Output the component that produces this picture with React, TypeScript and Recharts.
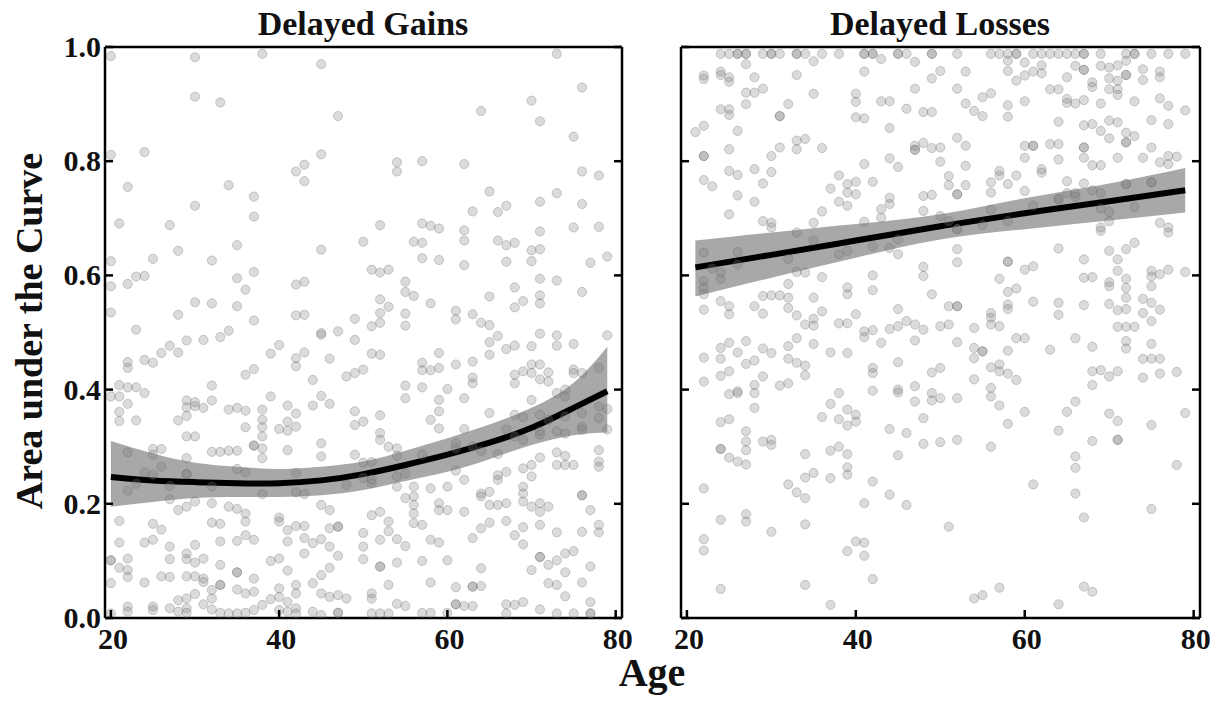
import React from "react";
import { ComposedChart, Scatter, Line, Area, XAxis, YAxis } from "recharts";

const FONT = "'Liberation Serif', 'Times New Roman', serif";

const AGE_TICKS = [20, 40, 60, 80];
const AUC_TICKS = [0, 0.2, 0.4, 0.6, 0.8, 1.0];
const AGE_DOMAIN: [number, number] = [19.3, 80.75];
const AUC_DOMAIN: [number, number] = [0, 1];

// [age, area under the curve]
const gainsPoints: [number, number][] = [
  [20,.984],[30,.982],[38,.988],[45,.970],[30,.913],[33,.903],[47,.879],[20,.811],[24,.816],[45,.812],[43,.794],[42,.782],[43,.765],[22,.755],[34,.758],[37,.738],[30,.722],[37,.703],[21,.691],[27,.688],[35,.653],[50,.659],[45,.645],[28,.643],[20,.625],[25,.629],[32,.626],[51,.61],[23,.598],[24,.599],[22,.585],[20,.581],[35,.595],[37,.606],[36,.575],[42,.584],[43,.589],[30,.553],[32,.551],[35,.546],[20,.535],[28,.531],[37,.521],[42,.530],[43,.531],[49,.524],[23,.505],[34,.503],[45,.499],[47,.502],[51,.511],
  [73,.988],[76,.929],[70,.906],[64,.888],[71,.870],[75,.843],[54,.798],[54,.782],[57,.80],[62,.795],[76,.782],[78,.775],[65,.747],[73,.744],[71,.729],[76,.725],[63,.712],[66,.711],[67,.722],[52,.688],[57,.691],[58,.687],[59,.682],[62,.679],[62,.661],[56,.659],[57,.657],[66,.661],[67,.653],[68,.657],[70,.644],[71,.646],[71,.677],[75,.684],[78,.685],[57,.63],[59,.627],[62,.618],[67,.624],[70,.625],[77,.622],[79,.633],[52,.605],[53,.61],[55,.589],[55,.571],[56,.564],[52,.558],[53,.545],[52,.534],[52,.517],[55,.533],[55,.512],[58,.551],[61,.538],[61,.523],[63,.532],[64,.517],[65,.513],[65,.563],[68,.579],[69,.555],[68,.544],[71,.594],[71,.565],[71,.551],[73,.591],[76,.571],
  [33,.492],[29,.486],[31,.487],[27,.477],[26,.464],[28,.465],[24,.452],[25,.447],[22,.448],[22,.438],[40,.478],[39,.463],[42,.455],[42,.441],[43,.465],[45,.496],[49,.487],[46,.454],[37,.436],[36,.426],[44,.417],[48,.423],[49,.429],[50,.435],[21,.408],[22,.404],[23,.404],[24,.394],[20,.388],[21,.388],[32,.407],[32,.381],[29,.381],[29,.369],[30,.378],[30,.371],[31,.368],[22,.375],[21,.361],[21,.345],[23,.346],[28,.346],[29,.354],[34,.365],[35,.368],[36,.363],[38,.365],[38,.347],[38,.334],[38,.318],[39,.388],[41,.372],[42,.358],[41,.344],[40,.331],[41,.328],[42,.335],[36,.334],[44,.372],[45,.389],[46,.375],[49,.362],[49,.338],[50,.344],[29,.318],[30,.318],[25,.296],[26,.296],[25,.286],[22,.29],[32,.291],[33,.291],[34,.293],[35,.293],[37,.302],[37,.302],[38,.297],[38,.28],[41,.294],[45,.306],[45,.283],[49,.286],[29,.28],[26,.265],[24,.255],[25,.251],[29,.252],[29,.252],[35,.261],[36,.255],[42,.254],[50,.272],[23,.235],[22,.223],[27,.231],[32,.23],[38,.217],[42,.22],[43,.217],[48,.233],[27,.208],[29,.195],[28,.189],[30,.204],[32,.201],[34,.195],[35,.191],[36,.183],[36,.169],[45,.198],[46,.189],[21,.17],[25,.165],[26,.155],[32,.167],[33,.165],[40,.176],[40,.169],[41,.154],[42,.161],[43,.161],[46,.157],[47,.16],[47,.16],[50,.149],[21,.132],[24,.132],[25,.137],[27,.125],[30,.128],[33,.134],[35,.135],[36,.145],[37,.137],[41,.134],[43,.14],[44,.131],[45,.138],[46,.125],[47,.109],[50,.125],[20,.101],[20,.101],[22,.104],[27,.103],[29,.113],[29,.103],[30,.097],[31,.104],[39,.1],[40,.104],[43,.113],[21,.088],[22,.084],[22,.072],[33,.093],[41,.083],[45,.075],[46,.088],[50,.103],[20,.061],[24,.062],[26,.073],[27,.072],[29,.073],[30,.073],[31,.069],[31,.063],[35,.08],[35,.08],[37,.069],[33,.058],[33,.058],[32,.049],[30,.042],[35,.05],[36,.043],[37,.046],[40,.052],[40,.037],[42,.058],[42,.043],[44,.061],[45,.043],[46,.037],[47,.04],[48,.034],[28,.031],[29,.034],[32,.034],[31,.024],[39,.033],[41,.028],[22,.02],[22,.011],[25,.02],[25,.014],[27,.017],[28,.011],[29,.017],[29,.009],[32,.015],[33,.009],[34,.008],[35,.008],[36,.009],[37,.014],[38,.023],[40,.014],[41,.011],[42,.017],[42,.008],[44,.011],[45,.005],[47,.009],[47,.009],[20,.008],
  [51,.463],[52,.461],[59,.464],[57,.447],[57,.434],[58,.434],[59,.438],[61,.444],[63,.449],[65,.483],[66,.494],[65,.461],[67,.471],[68,.477],[70,.476],[71,.498],[73,.495],[73,.477],[75,.48],[79,.495],[70,.444],[71,.444],[70,.429],[71,.418],[72,.43],[72,.414],[69,.432],[68,.426],[68,.411],[75,.435],[75,.429],[76,.429],[78,.438],[63,.421],[63,.411],[55,.407],[55,.385],[57,.404],[60,.401],[62,.385],[59,.382],[59,.362],[58,.347],[59,.332],[52,.355],[65,.359],[70,.382],[73,.394],[74,.4],[74,.388],[78,.37],[79,.366],[68,.356],[69,.352],[71,.356],[72,.347],[74,.353],[76,.359],[76,.335],[76,.33],[78,.35],[79,.33],[73,.327],[74,.323],[71,.327],[71,.321],[67,.33],[68,.318],[69,.312],[62,.331],[52,.324],[52,.312],[61,.306],[61,.297],[63,.3],[64,.292],[66,.287],[53,.3],[54,.297],[54,.284],[57,.286],[51,.273],[71,.281],[73,.29],[74,.284],[73,.268],[74,.268],[75,.268],[78,.294],[78,.274],[78,.265],[69,.262],[70,.268],[70,.248],[67,.256],[66,.25],[66,.242],[61,.258],[62,.242],[51,.236],[54,.248],[54,.23],[55,.253],[56,.23],[56,.213],[56,.198],[56,.183],[56,.166],[57,.163],[58,.227],[60,.23],[55,.21],[50,.245],[51,.243],[64,.218],[64,.213],[65,.221],[69,.23],[69,.218],[69,.204],[70,.195],[71,.201],[71,.186],[72,.195],[76,.215],[76,.215],[77,.189],[59,.201],[59,.189],[60,.189],[62,.186],[65,.198],[66,.198],[67,.201],[52,.186],[51,.18],[53,.169],[53,.152],[52,.137],[54,.138],[55,.126],[58,.137],[59,.132],[63,.14],[64,.157],[65,.167],[67,.17],[68,.145],[69,.159],[69,.129],[71,.163],[73,.15],[76,.151],[78,.163],[78,.15],[52,.09],[52,.09],[54,.097],[57,.1],[60,.101],[64,.087],[70,.084],[71,.107],[71,.107],[72,.093],[73,.101],[74,.113],[75,.117],[74,.08],[77,.09],[53,.058],[58,.062],[61,.054],[63,.055],[63,.055],[64,.056],[72,.061],[73,.058],[76,.062],[51,.043],[51,.034],[74,.038],[54,.025],[55,.021],[61,.024],[61,.024],[62,.021],[63,.021],[67,.024],[68,.023],[69,.028],[71,.015],[77,.028],[51,.008],[52,.008],[53,.008],[57,.009],[58,.009],[60,.009],[67,.008],[73,.008],[75,.008],[77,.008],[77,.008],
];

const lossesPoints: [number, number][] = [
  [24,.988],[25,.988],[26,.988],[26,.988],[27,.988],[27,.988],[29,.988],[30,.988],[30,.988],[31,.988],[33,.988],[33,.988],[34,.988],[36,.988],[38,.988],[41,.988],[41,.988],[42,.988],[42,.988],[45,.988],[45,.988],[46,.988],[49,.988],[49,.988],
  [27,.97],[35,.975],[43,.979],[47,.974],[22,.95],[22,.944],[24,.957],[24,.951],[25,.947],[25,.939],[28,.947],[33,.951],[41,.957],[49,.945],[50,.958],[27,.92],[28,.92],[29,.927],[35,.918],[40,.918],[40,.904],[27,.9],[47,.927],[43,.905],[44,.905],[46,.892],[48,.886],[49,.886],[24,.891],[25,.891],[25,.881],[32,.9],[31,.879],[31,.879],[40,.877],[41,.875],[21,.851],[22,.862],[26,.853],[44,.858],[22,.809],[22,.809],[25,.821],[30,.809],[31,.824],[33,.836],[33,.821],[34,.839],[36,.823],[47,.827],[47,.82],[47,.82],[48,.832],[49,.823],[50,.824],[50,.799],[25,.783],[26,.776],[28,.786],[30,.781],[29,.761],[22,.767],[23,.756],[41,.795],[44,.805],[45,.79],[38,.775],[37,.752],[39,.76],[39,.745],[40,.764],[40,.742],[42,.764],[38,.729],[39,.722],[26,.74],[28,.729],[44,.736],[44,.725],[43,.716],[48,.739],[49,.741],[48,.713],[25,.707],[36,.712],[29,.695],[30,.692],[30,.684],[35,.692],[41,.694],[43,.701],[50,.704],[33,.675],[35,.661],[45,.663],[22,.64],[26,.641],[32,.629],[38,.637],[39,.643],[42,.651],[44,.648],[45,.637],[23,.612],[24,.605],[24,.594],[26,.619],[22,.59],[22,.578],[22,.567],[33,.606],[34,.605],[36,.597],[42,.6],[48,.615],[48,.599],[32,.585],[39,.579],[39,.567],[42,.574],[29,.564],[30,.565],[31,.565],[32,.561],[35,.561],[49,.567],[24,.555],[25,.546],[25,.532],[22,.54],[28,.546],[29,.533],[32,.543],[33,.53],[35,.524],[35,.512],[34,.514],[36,.537],[40,.532],[38,.516],[39,.516],[45,.541],[46,.52],[45,.511],[47,.514],[48,.505],[50,.511],[44,.506],[42,.504],[41,.502],
  [52,.988],[56,.988],[57,.988],[58,.988],[59,.988],[59,.988],[61,.988],[62,.988],[63,.988],[64,.988],[65,.988],[66,.988],[67,.988],[67,.988],[69,.988],[72,.988],[73,.988],[73,.988],[75,.988],[77,.988],[79,.988],
  [58,.976],[60,.973],[62,.968],[53,.957],[58,.958],[61,.957],[62,.954],[66,.967],[67,.96],[67,.96],[69,.967],[70,.964],[71,.968],[72,.976],[72,.951],[72,.951],[70,.945],[71,.941],[70,.926],[71,.926],[71,.916],[74,.961],[74,.942],[76,.957],[76,.947],[59,.941],[60,.95],[65,.947],[68,.938],[68,.93],[63,.926],[64,.926],[52,.927],[55,.912],[56,.919],[53,.901],[54,.888],[55,.879],[58,.898],[58,.878],[60,.905],[65,.909],[65,.902],[66,.901],[67,.907],[69,.901],[73,.905],[76,.91],[77,.897],[79,.889],[64,.869],[67,.863],[68,.865],[69,.853],[70,.871],[71,.868],[70,.84],[72,.85],[72,.833],[72,.833],[73,.844],[75,.872],[77,.865],[52,.841],[53,.827],[60,.827],[61,.827],[61,.827],[63,.83],[64,.83],[67,.824],[67,.824],[75,.824],[53,.792],[60,.806],[64,.803],[67,.806],[68,.793],[69,.793],[71,.806],[74,.806],[76,.798],[77,.809],[77,.795],[78,.808],[51,.774],[51,.758],[53,.758],[56,.763],[57,.783],[57,.775],[58,.76],[59,.775],[62,.786],[62,.78],[65,.765],[67,.761],[52,.742],[52,.742],[56,.745],[60,.748],[64,.734],[65,.744],[66,.744],[66,.738],[68,.749],[69,.744],[72,.76],[72,.76],[75,.763],[75,.763],[51,.695],[52,.681],[52,.681],[55,.688],[56,.715],[58,.695],[61,.722],[64,.733],[69,.717],[70,.711],[70,.695],[69,.684],[69,.678],[73,.72],[76,.692],[77,.684],[77,.675],[52,.646],[52,.623],[58,.624],[58,.624],[60,.61],[61,.616],[64,.647],[67,.628],[67,.596],[68,.597],[70,.643],[71,.628],[72,.646],[73,.657],[71,.608],[72,.594],[70,.588],[70,.581],[75,.608],[75,.598],[75,.581],[76,.602],[77,.61],[79,.606],[57,.594],[58,.571],[59,.577],[72,.578],[72,.561],[51,.546],[52,.546],[52,.546],[58,.549],[58,.541],[56,.534],[56,.526],[61,.554],[64,.552],[64,.531],[67,.548],[70,.55],[71,.539],[72,.541],[74,.559],[74,.534],[75,.552],[76,.54],[75,.52],[51,.514],[54,.508],[56,.514],[57,.511],[71,.51],[72,.51],[73,.51],
  [41,.492],[43,.482],[47,.486],[22,.456],[24,.473],[24,.454],[25,.482],[26,.465],[27,.485],[27,.445],[28,.451],[29,.472],[30,.464],[32,.476],[32,.454],[33,.49],[33,.447],[34,.442],[34,.425],[35,.48],[37,.465],[39,.464],[22,.414],[24,.424],[25,.432],[28,.408],[28,.394],[29,.423],[25,.392],[26,.394],[26,.397],[31,.407],[32,.411],[28,.368],[38,.394],[37,.375],[39,.365],[40,.356],[40,.344],[39,.337],[38,.348],[36,.352],[42,.438],[42,.429],[42,.398],[45,.448],[45,.4],[45,.395],[47,.406],[47,.379],[49,.394],[49,.381],[50,.438],[49,.43],[48,.35],[24,.343],[25,.348],[27,.327],[27,.309],[27,.294],[24,.296],[24,.296],[25,.281],[26,.274],[27,.269],[29,.309],[30,.312],[30,.303],[34,.287],[37,.293],[38,.3],[39,.287],[39,.264],[39,.251],[35,.254],[34,.246],[37,.245],[44,.331],[46,.324],[48,.305],[50,.308],[45,.285],[22,.227],[32,.234],[33,.22],[34,.21],[42,.239],[41,.201],[44,.216],[46,.198],[24,.172],[27,.182],[27,.169],[30,.151],[34,.164],[22,.138],[22,.118],[39,.117],[40,.134],[41,.132],[41,.109],[42,.068],[24,.051],[34,.058],[37,.023],
  [52,.483],[54,.473],[54,.455],[55,.467],[55,.467],[58,.468],[59,.49],[60,.49],[63,.47],[66,.49],[68,.475],[72,.485],[72,.472],[75,.48],[74,.454],[75,.454],[76,.454],[54,.418],[56,.439],[57,.444],[57,.432],[58,.428],[59,.417],[56,.403],[56,.388],[57,.372],[68,.432],[69,.434],[70,.423],[71,.432],[68,.408],[74,.421],[76,.428],[78,.431],[52,.385],[50,.385],[60,.361],[58,.34],[65,.361],[66,.379],[64,.328],[70,.358],[71,.345],[75,.338],[79,.359],[52,.312],[56,.3],[68,.31],[71,.312],[71,.312],[66,.283],[66,.263],[78,.268],[61,.234],[66,.218],[67,.176],[75,.191],[51,.16],[54,.034],[55,.04],[57,.053],[64,.024],[67,.055],[68,.046],
];

// fitted curve and its confidence band
const gainsFitAge = [20, 25, 30, 35, 40, 45, 50, 55, 60, 65, 70, 75, 79];
const gainsFitMid = [0.247, 0.241, 0.238, 0.236, 0.236, 0.241, 0.252, 0.268, 0.286, 0.307, 0.333, 0.368, 0.397];
const gainsFitLo = [0.195, 0.203, 0.21, 0.212, 0.212, 0.215, 0.224, 0.24, 0.256, 0.278, 0.303, 0.32, 0.325];
const gainsFitHi = [0.31, 0.288, 0.272, 0.265, 0.261, 0.265, 0.274, 0.293, 0.315, 0.339, 0.368, 0.412, 0.475];

const lossesFitAge = [21, 30, 40, 50, 60, 70, 79];
const lossesFitMid = [0.614, 0.636, 0.661, 0.686, 0.709, 0.73, 0.749];
const lossesFitLo = [0.563, 0.596, 0.631, 0.663, 0.681, 0.696, 0.71];
const lossesFitHi = [0.661, 0.675, 0.69, 0.707, 0.735, 0.761, 0.788];

const toPoints = (pts: [number, number][]) => pts.map(([age, auc]) => ({ age, auc }));
const toFit = (age: number[], mid: number[], lo: number[], hi: number[]) =>
  age.map((a, i) => ({ age: a, fit: mid[i], band: [lo[i], hi[i]] }));

const TICK_LEN = 8;
const STROKE = 2.5;
const TICK_FONT = 30;
const axisLine = { stroke: "#000", strokeWidth: STROKE };

const BottomTick = (props: any) => {
  const { x, y, payload } = props;
  return (
    <g>
      <line x1={x} x2={x} y1={y} y2={y - TICK_LEN} stroke="#000" strokeWidth={STROKE} />
      <text x={x + 2} y={y + 31} textAnchor="middle" fontFamily={FONT} fontWeight="bold" fontSize={TICK_FONT} fill="#111">
        {payload.value}
      </text>
    </g>
  );
};

const TopTick = (props: any) => {
  const { x, y } = props;
  return <line x1={x} x2={x} y1={y} y2={y + TICK_LEN} stroke="#000" strokeWidth={STROKE} />;
};

const makeLeftTick = (labels: boolean) => (props: any) => {
  const { x, y, payload } = props;
  return (
    <g>
      <line x1={x} x2={x + TICK_LEN} y1={y} y2={y} stroke="#000" strokeWidth={STROKE} />
      {labels && (
        <text x={x - 4} y={y + 10} textAnchor="end" fontFamily={FONT} fontWeight="bold" fontSize={TICK_FONT} fill="#111">
          {Number(payload.value).toFixed(1)}
        </text>
      )}
    </g>
  );
};

const RightTick = (props: any) => {
  const { x, y } = props;
  return <line x1={x} x2={x - TICK_LEN} y1={y} y2={y} stroke="#000" strokeWidth={STROKE} />;
};

const Dot = (p: any) => (
  <circle cx={p.cx} cy={p.cy} r={4.6} fill="#7a7a7a" fillOpacity={0.27} stroke="#666" strokeOpacity={0.3} strokeWidth={1} />
);

interface PanelProps {
  points: { age: number; auc: number }[];
  fit: { age: number; fit: number; band: number[] }[];
  width: number;
  margin: { top: number; right: number; bottom: number; left: number };
  yLabels: boolean;
}

// axes are 1px thick so recharts still draws them; margins take that pixel back
function Panel({ points, fit, width, margin, yLabels }: PanelProps) {
  return (
    <ComposedChart width={width} height={704} margin={margin}>
      <XAxis
        type="number"
        dataKey="age"
        domain={AGE_DOMAIN}
        ticks={AGE_TICKS}
        interval={0}
        allowDataOverflow
        height={1}
        tickSize={0}
        tickMargin={0}
        tickLine={false}
        axisLine={axisLine}
        tick={<BottomTick />}
      />
      <XAxis
        xAxisId="top"
        orientation="top"
        type="number"
        domain={AGE_DOMAIN}
        ticks={AGE_TICKS}
        interval={0}
        allowDataOverflow
        height={1}
        tickSize={0}
        tickMargin={0}
        tickLine={false}
        axisLine={axisLine}
        tick={<TopTick />}
      />
      <YAxis
        type="number"
        domain={AUC_DOMAIN}
        ticks={AUC_TICKS}
        interval={0}
        allowDataOverflow
        width={1}
        tickSize={0}
        tickMargin={0}
        tickLine={false}
        axisLine={axisLine}
        tick={makeLeftTick(yLabels)}
      />
      <YAxis
        yAxisId="right"
        orientation="right"
        type="number"
        domain={AUC_DOMAIN}
        ticks={AUC_TICKS}
        interval={0}
        allowDataOverflow
        width={1}
        tickSize={0}
        tickMargin={0}
        tickLine={false}
        axisLine={axisLine}
        tick={<RightTick />}
      />
      <Area
        data={fit}
        dataKey="band"
        type="natural"
        fill="#a8a8a8"
        fillOpacity={1}
        stroke="none"
        isAnimationActive={false}
      />
      <Scatter data={points} dataKey="auc" shape={<Dot />} isAnimationActive={false} />
      <Line
        data={fit}
        dataKey="fit"
        type="natural"
        stroke="#000"
        strokeWidth={6}
        dot={false}
        activeDot={false}
        isAnimationActive={false}
      />
    </ComposedChart>
  );
}

export default function App() {
  const textStyle = { fontFamily: FONT, fontWeight: "bold" as const, fill: "#111" };
  return (
    <div style={{ position: "absolute", left: 0, top: 0, width: 1214, height: 704, background: "#fff", overflow: "hidden" }}>
      <div style={{ position: "absolute", left: 0, top: 0 }}>
        <Panel
          points={toPoints(gainsPoints)}
          fit={toFit(gainsFitAge, gainsFitMid, gainsFitLo, gainsFitHi)}
          width={640}
          margin={{ top: 46, right: 17, bottom: 85, left: 104 }}
          yLabels
        />
      </div>
      <div style={{ position: "absolute", left: 660, top: 0 }}>
        <Panel
          points={toPoints(lossesPoints)}
          fit={toFit(lossesFitAge, lossesFitMid, lossesFitLo, lossesFitHi)}
          width={554}
          margin={{ top: 46, right: 13, bottom: 85, left: 20 }}
          yLabels={false}
        />
      </div>
      <svg width={1214} height={704} style={{ position: "absolute", left: 0, top: 0, pointerEvents: "none" }}>
        <text x={363} y={35} textAnchor="middle" fontSize={34} {...textStyle}>Delayed Gains</text>
        <text x={940} y={35} textAnchor="middle" fontSize={34} {...textStyle}>Delayed Losses</text>
        <text x={652} y={686} textAnchor="middle" fontSize={40} {...textStyle}>Age</text>
        <text transform="translate(42,331) rotate(-90)" textAnchor="middle" fontSize={38} {...textStyle}>
          Area under the Curve
        </text>
      </svg>
    </div>
  );
}
